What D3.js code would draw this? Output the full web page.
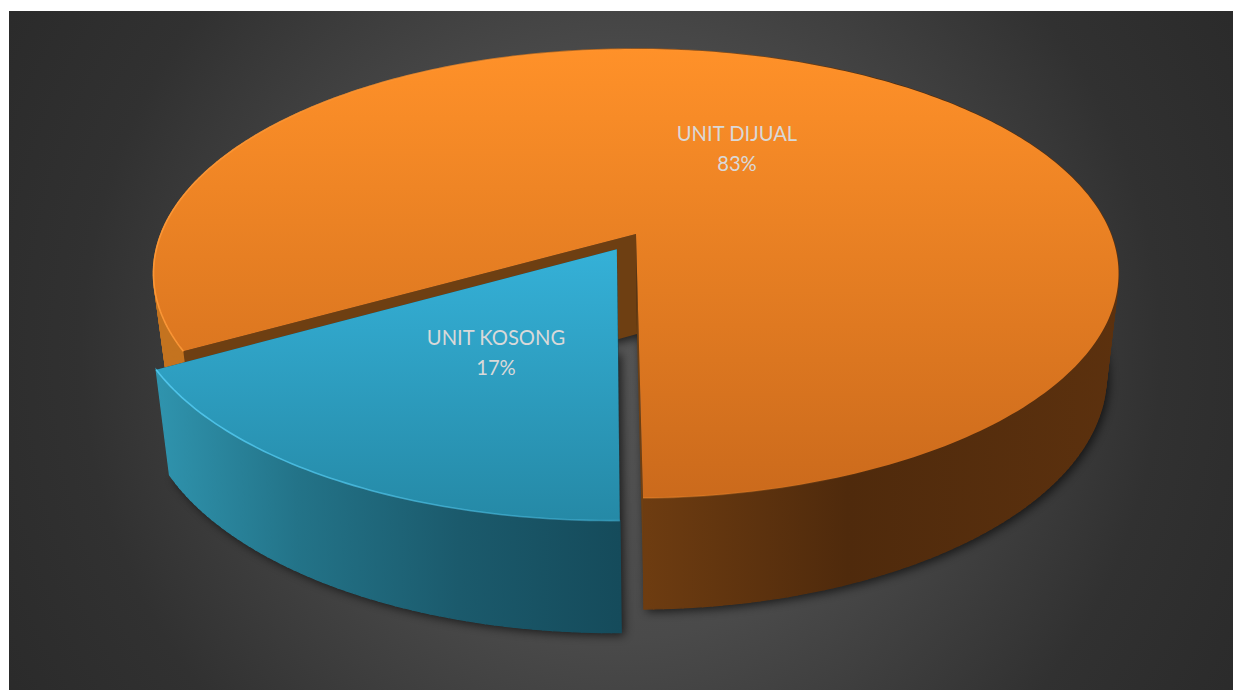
<!DOCTYPE html>
<html>
<head>
<meta charset="utf-8">
<script src="https://cdn.jsdelivr.net/npm/d3@7/dist/d3.min.js"></script>
<style>
html,body{margin:0;padding:0;background:#fff;overflow:hidden}
svg{display:block}
text{font-family:Lato,"Open Sans",sans-serif;font-size:20.2px;fill:#d9d9d9;text-anchor:middle}
</style>
</head>
<body>
<svg id="chart" width="1233" height="690"></svg>
<script>
const categories = ["UNIT DIJUAL", "UNIT KOSONG"];
const values = [83, 17];

const deg = Math.PI / 180;
const svg = d3.select("#chart");
const defs = svg.append("defs");

// camera model of the tilted disc: one plane for the lid, one for the floor
const topPlane = {x0: 636, y0: 234, a: 217.6, b: 475, k: 0.176};
const botPlane = {x0: 637, y0: 334, a: 225.5, b: 461.6, k: 0.18};
const project = (pl, u, v) => {
  const w = 1 + pl.k * v;
  return [pl.x0 + pl.b * u / w, pl.y0 - pl.a * v / w];
};
const explode = [0, 0.08];

const pie = d3.pie().sort(null).startAngle(240.5 * deg).endAngle((240.5 + 360) * deg);
const arcs = pie(values);

const line = d3.line();
const angleSamples = (s, e) => {
  const n = Math.ceil((e - s) / (1 * deg));
  return d3.range(n + 1).map(i => s + (e - s) * i / n);
};
const pt = (pl, off, ang, r) => {
  const mid = off.mid;
  return project(pl, off.d * Math.sin(mid) + r * Math.sin(ang), off.d * Math.cos(mid) + r * Math.cos(ang));
};

// gradients
const grad = (id, attrs, stops) => {
  const g = defs.append(attrs.r ? "radialGradient" : "linearGradient").attr("id", id).attr("gradientUnits", "userSpaceOnUse");
  Object.entries(attrs).forEach(([k, v]) => g.attr(k, v));
  stops.forEach(s => g.append("stop").attr("offset", s[0]).attr("stop-color", s[1]).attr("stop-opacity", s[2] === undefined ? 1 : s[2]));
};
grad("bg", {cx: 621, cy: 350, r: 720}, [[0, "#555555"], [0.4, "#4a4a4a"], [0.75, "#313131"], [1, "#2a2a2a"]]);
grad("lid0", {x1: 0, x2: 0, y1: 49, y2: 498}, [[0, "#ff9129"], [1, "#cb6a1c"]]);
grad("lid1", {x1: 0, x2: 0, y1: 248, y2: 521}, [[0, "#35b1d8"], [1, "#2589a6"]]);
grad("rim0", {x1: 153, x2: 900, y1: 0, y2: 0}, [[0, "#fb9636", 1], [0.5, "#fb9636", 0.5], [1, "#fb9636", 0]]);
grad("rim1", {x1: 160, x2: 618, y1: 0, y2: 0}, [[0, "#4fc4ea", 1], [1, "#4fc4ea", 0.4]]);
grad("wall0", {x1: 153, x2: 1118, y1: 0, y2: 0}, [[0, "#c4731f"], [0.05, "#c4731f"], [0.5, "#6f3d11"], [0.72, "#4f2a0c"], [1, "#5c310e"]]);
grad("wall1", {x1: 160, x2: 620, y1: 0, y2: 0}, [[0, "#2f93ad"], [0.3, "#237388"], [0.65, "#1b5a6c"], [1, "#154b5b"]]);

const blur = defs.append("filter").attr("id", "shadow").attr("x", "-10%").attr("y", "-10%").attr("width", "120%").attr("height", "120%");
blur.append("feGaussianBlur").attr("stdDeviation", 5);
const soft = defs.append("filter").attr("id", "soft");
soft.append("feGaussianBlur").attr("stdDeviation", 0.6);

svg.append("rect").attr("x", 9).attr("y", 11).attr("width", 1224).attr("height", 679).attr("fill", "url(#bg)");

const pieces = arcs.map((a, i) => ({a, i, off: {d: explode[i], mid: (a.startAngle + a.endAngle) / 2}}));

// soft shadow on the ground
const shadowG = svg.append("g").attr("filter", "url(#shadow)").attr("opacity", 0.62).attr("transform", "translate(3,3)");
pieces.forEach(p => {
  const s = angleSamples(p.a.startAngle, p.a.endAngle);
  const floor = s.map(t => pt(botPlane, p.off, t, 1));
  floor.push(pt(botPlane, p.off, 0, 0));
  shadowG.append("path").attr("d", line(floor) + "Z").attr("fill", "#000");
});

// orange first: it sits behind the pulled-out slice
const sliceG = svg.selectAll("g.slice").data(pieces).join("g").attr("class", "slice");
sliceG.each(function (p) {
  const g = d3.select(this);
  const s = angleSamples(p.a.startAngle, p.a.endAngle);
  const cutColor = p.i === 0 ? "#6e3f12" : "#154b5b";

  const wallTop = s.map(t => pt(topPlane, p.off, t, 1));
  const wallBot = s.map(t => pt(botPlane, p.off, t, 1));
  const strips = d3.pairs(d3.range(s.length)).map(([m, n]) => line([wallTop[m], wallTop[n], wallBot[n], wallBot[m]]) + "Z");
  const drawWall = () => {
    const w = g.append("g");
    w.selectAll("path").data(strips).join("path").attr("d", d => d)
      .attr("fill", `url(#wall${p.i})`).attr("stroke", `url(#wall${p.i})`).attr("stroke-width", 1.3);
  };

  // orange: wall under the cut faces; blue: cut faces under the wall
  if (p.i === 0) drawWall();
  [p.a.startAngle, p.a.endAngle].forEach(t => {
    const q = [pt(topPlane, p.off, 0, 0), pt(topPlane, p.off, t, 1), pt(botPlane, p.off, t, 1), pt(botPlane, p.off, 0, 0)];
    g.append("path").attr("d", line(q) + "Z").attr("fill", cutColor);
  });
  if (p.i === 1) drawWall();

  // lid
  g.append("path").attr("d", line(wallTop.concat([pt(topPlane, p.off, 0, 0)])) + "Z").attr("fill", `url(#lid${p.i})`);
  g.append("path").attr("d", line(wallTop)).attr("fill", "none").attr("stroke", `url(#rim${p.i})`).attr("stroke-width", 1.6).attr("filter", "url(#soft)");
});

// labels
const labelAt = [[737, 141], [496, 345]];
const labelG = svg.selectAll("g.label").data(categories).join("g").attr("class", "label");
labelG.append("text").attr("x", (d, i) => labelAt[i][0]).attr("y", (d, i) => labelAt[i][1]).text(d => d);
labelG.append("text").attr("x", (d, i) => labelAt[i][0]).attr("y", (d, i) => labelAt[i][1] + 30).text((d, i) => values[i] + "%");
</script>
</body>
</html>
